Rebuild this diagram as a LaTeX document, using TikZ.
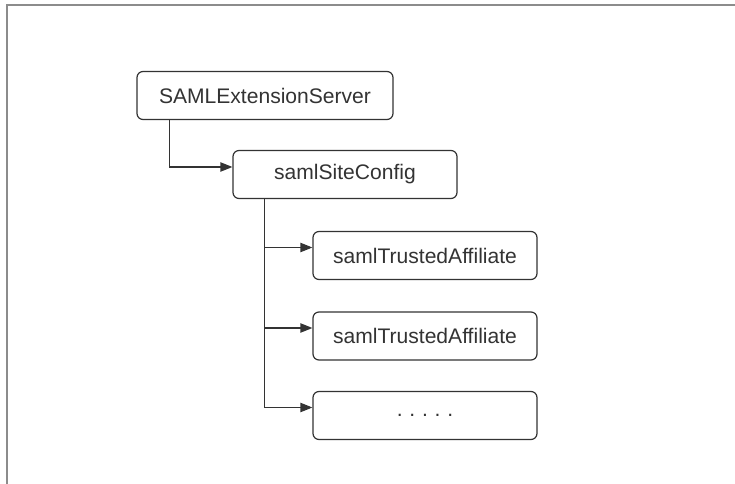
\documentclass[tikz,border=0pt]{standalone}
\usepackage{fontspec}
\setmainfont{Liberation Sans}
\usetikzlibrary{arrows.meta,calc}
\begin{document}
\begin{tikzpicture}[
  x=0.75pt, y=-0.75pt,
  box/.style={draw=black!80, line width=0.9pt, rounded corners=4.5pt, fill=white,
    minimum height=36pt, inner sep=0pt, font=\fontsize{15.8}{18}\selectfont, text=black!80},
  link/.style={draw=black!80, line width=0.9pt,
    -{Triangle[length=9pt,width=7pt]}},
  frame/.style={draw=black!45, line width=1.2pt}
]
\useasboundingbox (0,0) rectangle (735,484);
% window frame along the top and left
\draw[frame] (7,484) -- (7,5) -- (735,5);

% tree nodes
\node[box, minimum width=192pt] (ext) at (265,95.5) {SAMLExtensionServer};
\node[box, minimum width=168pt] (cfg) at (345,174.5) {samlSiteConfig};
\node[box, minimum width=168pt] (ta1) at (425,255.5) {samlTrustedAffiliate};
\node[box, minimum width=168pt] (ta2) at (425,336) {samlTrustedAffiliate};
\node[box, minimum width=168pt] (more) at (425,415.5) {.\hspace{0.32em}.\hspace{0.32em}.\hspace{0.32em}.\hspace{0.32em}.};

% connectors
\draw[link] ($(ext.south west)+(33,0)$) |- ($(cfg.west)+(0,-7.5)$);
\draw[link] ($(cfg.south west)+(32,0)$) |- ($(ta1.west)+(0,-8)$);
\draw[link] ($(cfg.south west)+(32,0)$) |- ($(ta2.west)+(0,-8)$);
\draw[link] ($(cfg.south west)+(32,0)$) |- ($(more.west)+(0,-8)$);
\end{tikzpicture}
\end{document}
